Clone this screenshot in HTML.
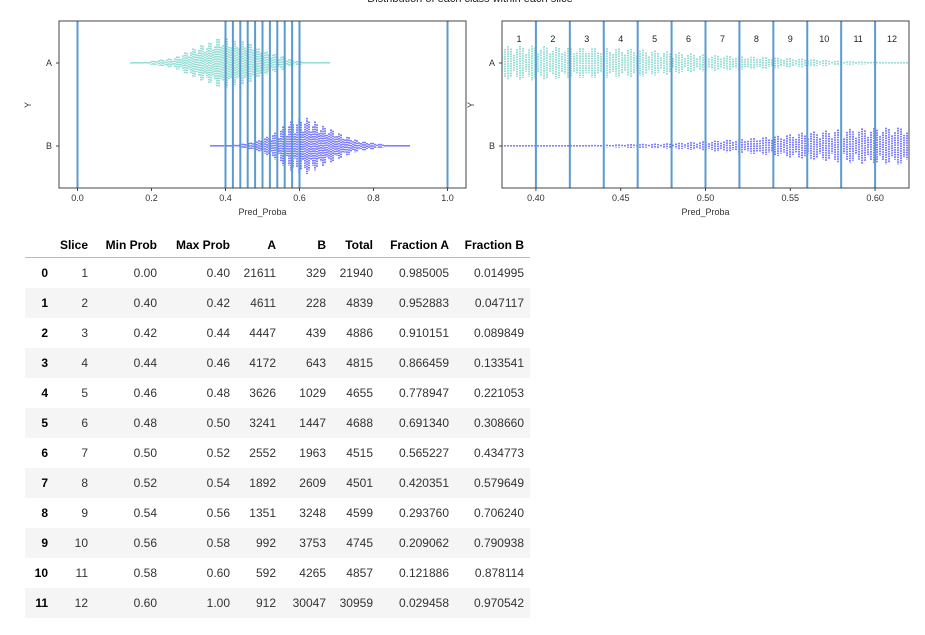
<!DOCTYPE html>
<html><head><meta charset="utf-8"><style>
body{margin:0;width:925px;height:635px;background:#fff;font-family:"Liberation Sans",sans-serif;overflow:hidden;position:relative}
svg{position:absolute;left:0;top:0}
table{position:absolute;left:25px;top:232px;border-collapse:collapse;font-size:12px;color:#333}
th,td{text-align:right;padding:0;height:30px;white-space:nowrap}
th:last-child,td:last-child{padding-right:6px}
thead th{height:25px;border-bottom:1px solid #bbb;font-weight:bold;color:#000}
tbody th{font-weight:bold;color:#000}
tbody tr:nth-child(even){background:#f5f5f5}
</style></head><body>
<svg width="925" height="225" id="svg"></svg>
<table>
<colgroup><col style="width:23px"><col style="width:40px"><col style="width:69px"><col style="width:73px"><col style="width:46px"><col style="width:50px"><col style="width:47px"><col style="width:76px"><col style="width:81px"></colgroup>
<thead><tr><th></th><th>Slice</th><th>Min Prob</th><th>Max Prob</th><th>A</th><th>B</th><th>Total</th><th>Fraction A</th><th>Fraction B</th></tr></thead>
<tbody>
<tr><th>0</th><td>1</td><td>0.00</td><td>0.40</td><td>21611</td><td>329</td><td>21940</td><td>0.985005</td><td>0.014995</td></tr>
<tr><th>1</th><td>2</td><td>0.40</td><td>0.42</td><td>4611</td><td>228</td><td>4839</td><td>0.952883</td><td>0.047117</td></tr>
<tr><th>2</th><td>3</td><td>0.42</td><td>0.44</td><td>4447</td><td>439</td><td>4886</td><td>0.910151</td><td>0.089849</td></tr>
<tr><th>3</th><td>4</td><td>0.44</td><td>0.46</td><td>4172</td><td>643</td><td>4815</td><td>0.866459</td><td>0.133541</td></tr>
<tr><th>4</th><td>5</td><td>0.46</td><td>0.48</td><td>3626</td><td>1029</td><td>4655</td><td>0.778947</td><td>0.221053</td></tr>
<tr><th>5</th><td>6</td><td>0.48</td><td>0.50</td><td>3241</td><td>1447</td><td>4688</td><td>0.691340</td><td>0.308660</td></tr>
<tr><th>6</th><td>7</td><td>0.50</td><td>0.52</td><td>2552</td><td>1963</td><td>4515</td><td>0.565227</td><td>0.434773</td></tr>
<tr><th>7</th><td>8</td><td>0.52</td><td>0.54</td><td>1892</td><td>2609</td><td>4501</td><td>0.420351</td><td>0.579649</td></tr>
<tr><th>8</th><td>9</td><td>0.54</td><td>0.56</td><td>1351</td><td>3248</td><td>4599</td><td>0.293760</td><td>0.706240</td></tr>
<tr><th>9</th><td>10</td><td>0.56</td><td>0.58</td><td>992</td><td>3753</td><td>4745</td><td>0.209062</td><td>0.790938</td></tr>
<tr><th>10</th><td>11</td><td>0.58</td><td>0.60</td><td>592</td><td>4265</td><td>4857</td><td>0.121886</td><td>0.878114</td></tr>
<tr><th>11</th><td>12</td><td>0.60</td><td>1.00</td><td>912</td><td>30047</td><td>30959</td><td>0.029458</td><td>0.970542</td></tr>
</tbody></table>
<script>
const binCenters=[0.14,0.16,0.18,0.20,0.22,0.24,0.26,0.28,0.30,0.32,0.34,0.36,0.38,0.40,0.42,0.44,0.46,0.48,0.50,0.52,0.54,0.56,0.58,0.60,0.62,0.64,0.66,0.68,0.70,0.72,0.74,0.76,0.78,0.80,0.82,0.84,0.86,0.88,0.90];
const densityA=[1,1,1,2,3,4,5,8,12,15,18,20,24,25,22,22,20,16,12,10,8,6,3,2,1,1,1,0,0,0,0,0,0,0,0,0,0,0,0];
const densityB=[0,0,0,0,0,0,0,0,0,0,0,0,1,1,1,2,3,4,7,10,14,20,24,26,27,24,20,17,14,10,8,5,4,3,2,1,0,1,0];
const sliceEdges=[0,0.40,0.42,0.44,0.46,0.48,0.50,0.52,0.54,0.56,0.58,0.60,1.0];
const sliceLabels=["1","2","3","4","5","6","7","8","9","10","11","12"];
const leftTicks=[0,0.2,0.4,0.6,0.8,1.0];
const rightTicks=[0.40,0.45,0.50,0.55,0.60];
const cats=["A","B"];
const NS="http://www.w3.org/2000/svg",svg=document.getElementById('svg');
function mk(t,a,p){const e=document.createElementNS(NS,t);for(const k in a)e.setAttribute(k,a[k]);(p||svg).appendChild(e);return e;}
function dens(arr,v){if(v<binCenters[0]||v>binCenters[binCenters.length-1])return 0;
 for(let i=0;i<binCenters.length-1;i++){if(v<=binCenters[i+1]){const t=(v-binCenters[i])/(binCenters[i+1]-binCenters[i]);return arr[i]*(1-t)+arr[i+1]*t;}}return 0;}
const yCat={A:63,B:146};
function panel(name,x0,x1,d0,d1,ticks,fmt,ky,step,showLabels){
 const sx=v=>x0+(v-d0)/(d1-d0)*(x1-x0);
 const g=mk('g',{});
 
 
 const clip=mk('clipPath',{id:'c'+name},g);mk('rect',{x:x0,y:21,width:x1-x0,height:167},clip);
 const dots=mk('g',{'clip-path':'url(#c'+name+')'},g);
 [["A",densityA,"#4fc9bb"],["B",densityB,"#2a2aff"]].forEach(([c,arr,col])=>{
  const sg=mk('g',{},dots);
  
  
  let i=0;
  for(let px=x0;px<=x1;px+=step,i++){
   const v=d0+(px-x0)/(x1-x0)*(d1-d0);
   let h=dens(arr,v)*ky;
   if(h<=0)continue;
   h=Math.max(1,h*(0.45+0.55*Math.abs(Math.sin(i*2.37))));
   mk('line',{x1:px,x2:px,y1:yCat[c]-h,y2:yCat[c]+h,stroke:col,'stroke-width':1.4,'stroke-dasharray':'1.6,0.8','opacity':0.85},sg);
  }
 });
 sliceEdges.forEach((e,k)=>{const x=sx(e);if(x<x0-1||x>x1+1)return;
  const l=mk('line',{x1:x,x2:x,y1:21,y2:188,stroke:'#5b9bcf','stroke-width':2},g);
  
  });
 if(showLabels){sliceLabels.forEach((s,k)=>{const a=Math.max(sliceEdges[k],d0),b=Math.min(sliceEdges[k+1],d1);
  const t=mk('text',{x:(sx(a)+sx(b))/2,y:42,'font-size':9,'text-anchor':'middle',fill:'#222'},g);t.textContent=s;
  
  });}
 mk('rect',{x:x0,y:21,width:x1-x0,height:167,fill:'none',stroke:'#444','stroke-width':1},g);
 ticks.forEach(t=>{const x=sx(t);mk('line',{x1:x,x2:x,y1:188,y2:191,stroke:'#444'},g);
  const tx=mk('text',{x:x,y:201,'font-size':9,'text-anchor':'middle',fill:'#333'},g);tx.textContent=fmt(t);
  
  });
 cats.forEach(c=>{mk('line',{x1:x0-3,x2:x0,y1:yCat[c],y2:yCat[c],stroke:'#444'},g);
  const tx=mk('text',{x:x0-7,y:yCat[c]+3,'font-size':9,'text-anchor':'end',fill:'#333'},g);tx.textContent=c;
  
  });
 const xt=mk('text',{x:(x0+x1)/2,y:215,'font-size':9,'text-anchor':'middle',fill:'#333'},g);xt.textContent='Pred_Proba';
 
 
 const yt=mk('text',{x:x0-28,y:105,'font-size':9,'text-anchor':'middle',fill:'#333',transform:`rotate(-90 ${x0-28} 105)`},g);yt.textContent='Y';
 
 
}
panel('left-chart',59,466,-0.05,1.05,leftTicks,t=>t.toFixed(1),1.05,2,false);
panel('right-chart',502,909,0.38,0.62,rightTicks,t=>t.toFixed(2),0.7,3,true);
const title=mk('text',{x:470,y:2,'font-size':11,'text-anchor':'middle',fill:'#222'});
title.textContent='Distribution of each class within each slice';


</script>
</body></html>
